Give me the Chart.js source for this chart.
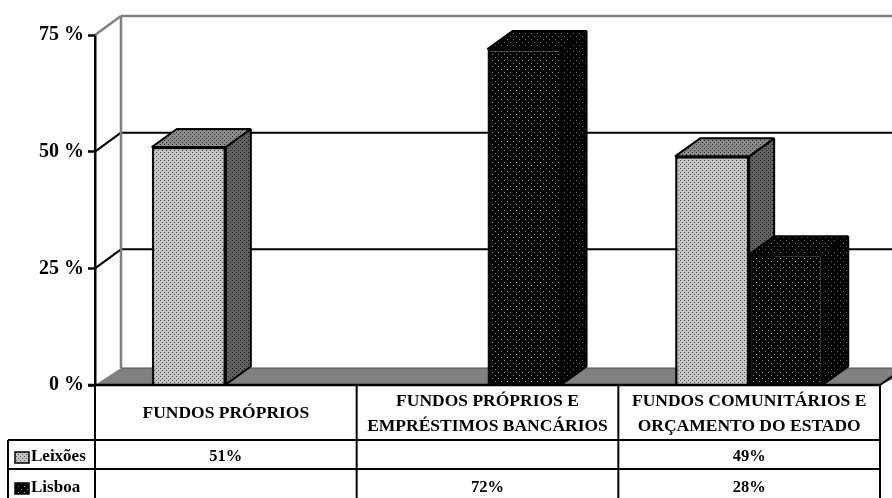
<!DOCTYPE html>
<html>
<head>
<meta charset="utf-8">
<title>Fontes de financiamento</title>
<script src="https://cdn.jsdelivr.net/npm/chart.js@4/dist/chart.umd.min.js"></script>
<style>
  html, body { margin: 0; padding: 0; background: #fff; overflow: hidden; }
  canvas { display: block; }
</style>
</head>
<body>
<canvas id="fundingChart" width="892" height="498"></canvas>
<script>
const categories = [
  ['FUNDOS PRÓPRIOS'],
  ['FUNDOS PRÓPRIOS E', 'EMPRÉSTIMOS BANCÁRIOS'],
  ['FUNDOS COMUNITÁRIOS E', 'ORÇAMENTO DO ESTADO']
];
const leixoes = [51, null, 49];
const lisboa = [null, 72, 28];
const yTicks = ['0 %', '25 %', '50 %', '75 %'];

// depth of the fake 3D box
const wallDx = 26, wallDy = 19, floorDy = 17;
const barDx = 25, barDy = 18;
const serif = '"Liberation Serif", serif';

// small dotted fill, used for every face of the bars
function dots(bg, dot, period, size) {
  const c = document.createElement('canvas');
  c.width = c.height = period * 2;
  const g = c.getContext('2d');
  g.fillStyle = bg;
  g.fillRect(0, 0, c.width, c.height);
  g.fillStyle = dot;
  g.fillRect(0, 0, size, size);
  g.fillRect(period, period, size, size);
  return g.createPattern(c, 'repeat');
}

const faces = [
  { front: dots('#c4c4c4', '#505050', 2, 1), top: dots('#8a8a8a', '#303030', 2, 1), side: dots('#606060', '#1c1c1c', 2, 1) },
  { front: dots('#000', '#909090', 3, 1), top: dots('#000', '#707070', 3, 1), side: dots('#000', '#606060', 3, 1) }
];

function line(ctx, x1, y1, x2, y2, color, width) {
  ctx.strokeStyle = color;
  ctx.lineWidth = width;
  ctx.beginPath();
  ctx.moveTo(x1, y1);
  ctx.lineTo(x2, y2);
  ctx.stroke();
}

function poly(ctx, pts, fill) {
  ctx.fillStyle = fill;
  ctx.strokeStyle = '#000';
  ctx.lineWidth = 2;
  ctx.lineJoin = 'bevel';
  ctx.beginPath();
  pts.forEach((p, i) => i ? ctx.lineTo(p[0], p[1]) : ctx.moveTo(p[0], p[1]));
  ctx.closePath();
  ctx.fill();
  ctx.stroke();
}

// back wall, floor and grid lines
const wallsPlugin = {
  id: 'walls',
  beforeDatasetsDraw(chart) {
    const { ctx, chartArea: a, scales: { y } } = chart;
    const edge = chart.width + wallDx;
    ctx.save();
    y.ticks.forEach(t => {
      const py = y.getPixelForValue(t.value);
      if (t.value === 0) return;
      const top = t.value === y.max;
      const color = top ? '#808080' : '#000';
      line(ctx, a.left, py, a.left + wallDx, py - wallDy, color, top ? 2.5 : 2);
      line(ctx, a.left + wallDx, py - wallDy, edge, py - wallDy, color, top ? 2.5 : 2);
    });
    line(ctx, a.left + wallDx, a.top - wallDy, a.left + wallDx, a.bottom - floorDy, '#808080', 2.5);
    ctx.fillStyle = '#808080';
    ctx.beginPath();
    ctx.moveTo(a.left, a.bottom);
    ctx.lineTo(a.left + wallDx, a.bottom - floorDy);
    ctx.lineTo(edge, a.bottom - floorDy);
    ctx.lineTo(a.right, a.bottom);
    ctx.closePath();
    ctx.fill();
    line(ctx, a.left + wallDx, a.bottom - floorDy, edge, a.bottom - floorDy, '#505050', 1);
    line(ctx, a.right, a.bottom, a.right + 14, a.bottom - 10, '#000', 2);
    ctx.restore();
  },
  // the library paints dataset 0 last, here the second series has to cover the first
  beforeDatasetDraw() {
    return false;
  },
  afterDatasetsDraw(chart) {
    const { ctx } = chart;
    ctx.save();
    chart.data.datasets.forEach((ds, i) => {
      chart.getDatasetMeta(i).data.forEach((bar, j) => {
        if (ds.data[j] === null) return;
        const p = bar.getProps(['x', 'y', 'base', 'width'], true);
        const l = p.x - p.width / 2, r = p.x + p.width / 2;
        poly(ctx, [[r, p.y], [r + barDx, p.y - barDy], [r + barDx, p.base - barDy], [r, p.base]], faces[i].side);
        poly(ctx, [[l, p.y], [l + barDx, p.y - barDy], [r + barDx, p.y - barDy], [r, p.y]], faces[i].top);
        bar.draw(ctx);
      });
    });
    ctx.restore();
  }
};

// data table under the x axis, columns follow the category scale
const tablePlugin = {
  id: 'dataTable',
  afterDraw(chart) {
    const { ctx, chartArea: a, scales: { x } } = chart;
    const rowTop = 440, row1 = 469, tableLeft = 8, bottom = chart.height;
    const colW = x.width / categories.length;
    ctx.save();
    line(ctx, a.left - 7, a.bottom, a.right, a.bottom, '#000', 2.5);
    line(ctx, tableLeft, rowTop, a.right, rowTop, '#000', 2);
    line(ctx, tableLeft, row1, a.right, row1, '#000', 2);
    line(ctx, tableLeft, rowTop, tableLeft, bottom, '#000', 2);
    for (let c = 0; c <= categories.length; c++) {
      const cx = a.left + c * colW;
      line(ctx, cx, a.bottom, cx, bottom, '#000', 2);
    }
    ctx.fillStyle = '#000';
    ctx.textAlign = 'center';
    ctx.textBaseline = 'middle';
    ctx.font = 'bold 17.5px ' + serif;
    categories.forEach((lines, c) => {
      const mid = x.getPixelForValue(c);
      const start = (a.bottom + rowTop) / 2 + 1 - (lines.length - 1) * 12.5;
      lines.forEach((t, k) => ctx.fillText(t, mid, start + k * 25));
    });
    const rows = [457, 488];
    ctx.font = 'bold 16.5px ' + serif;
    chart.data.datasets.forEach((ds, i) => {
      ds.data.forEach((v, c) => {
        if (v !== null) ctx.fillText(v + '%', x.getPixelForValue(c), rows[i]);
      });
    });
    ctx.font = 'bold 17px ' + serif;
    chart.data.datasets.forEach((ds, i) => {
      ctx.fillStyle = faces[i].front;
      ctx.fillRect(15, rows[i] - 5, 14, 11);
      ctx.strokeStyle = '#000';
      ctx.lineWidth = 1.5;
      ctx.strokeRect(15, rows[i] - 5, 14, 11);
      ctx.fillStyle = '#000';
      ctx.textAlign = 'left';
      ctx.fillText(ds.label, 31, rows[i]);
    });
    ctx.restore();
  }
};

new Chart(document.getElementById('fundingChart'), {
  type: 'bar',
  data: {
    labels: categories,
    datasets: [
      { label: 'Leixões', data: leixoes, backgroundColor: faces[0].front },
      { label: 'Lisboa', data: lisboa, backgroundColor: faces[1].front }
    ]
  },
  options: {
    responsive: false,
    animation: false,
    layout: { padding: { top: 35, right: 12, bottom: 113, left: 0 } },
    plugins: { legend: { display: false }, tooltip: { enabled: false } },
    datasets: {
      bar: {
        categoryPercentage: 0.566,
        barPercentage: 1,
        borderColor: '#000',
        borderWidth: 2.5
      }
    },
    scales: {
      x: { display: false },
      y: {
        min: 0,
        max: 75,
        afterFit(scale) { scale.width = 95; },
        border: { color: '#000', width: 2.5 },
        grid: { drawOnChartArea: false, color: '#000', tickColor: '#000', tickLength: 7, tickWidth: 2.5 },
        ticks: {
          stepSize: 25,
          color: '#000',
          padding: 4,
          font: { family: serif, size: 20, weight: 'bold' },
          callback: (v, i) => yTicks[i]
        }
      }
    }
  },
  plugins: [wallsPlugin, tablePlugin]
});
</script>
</body>
</html>
